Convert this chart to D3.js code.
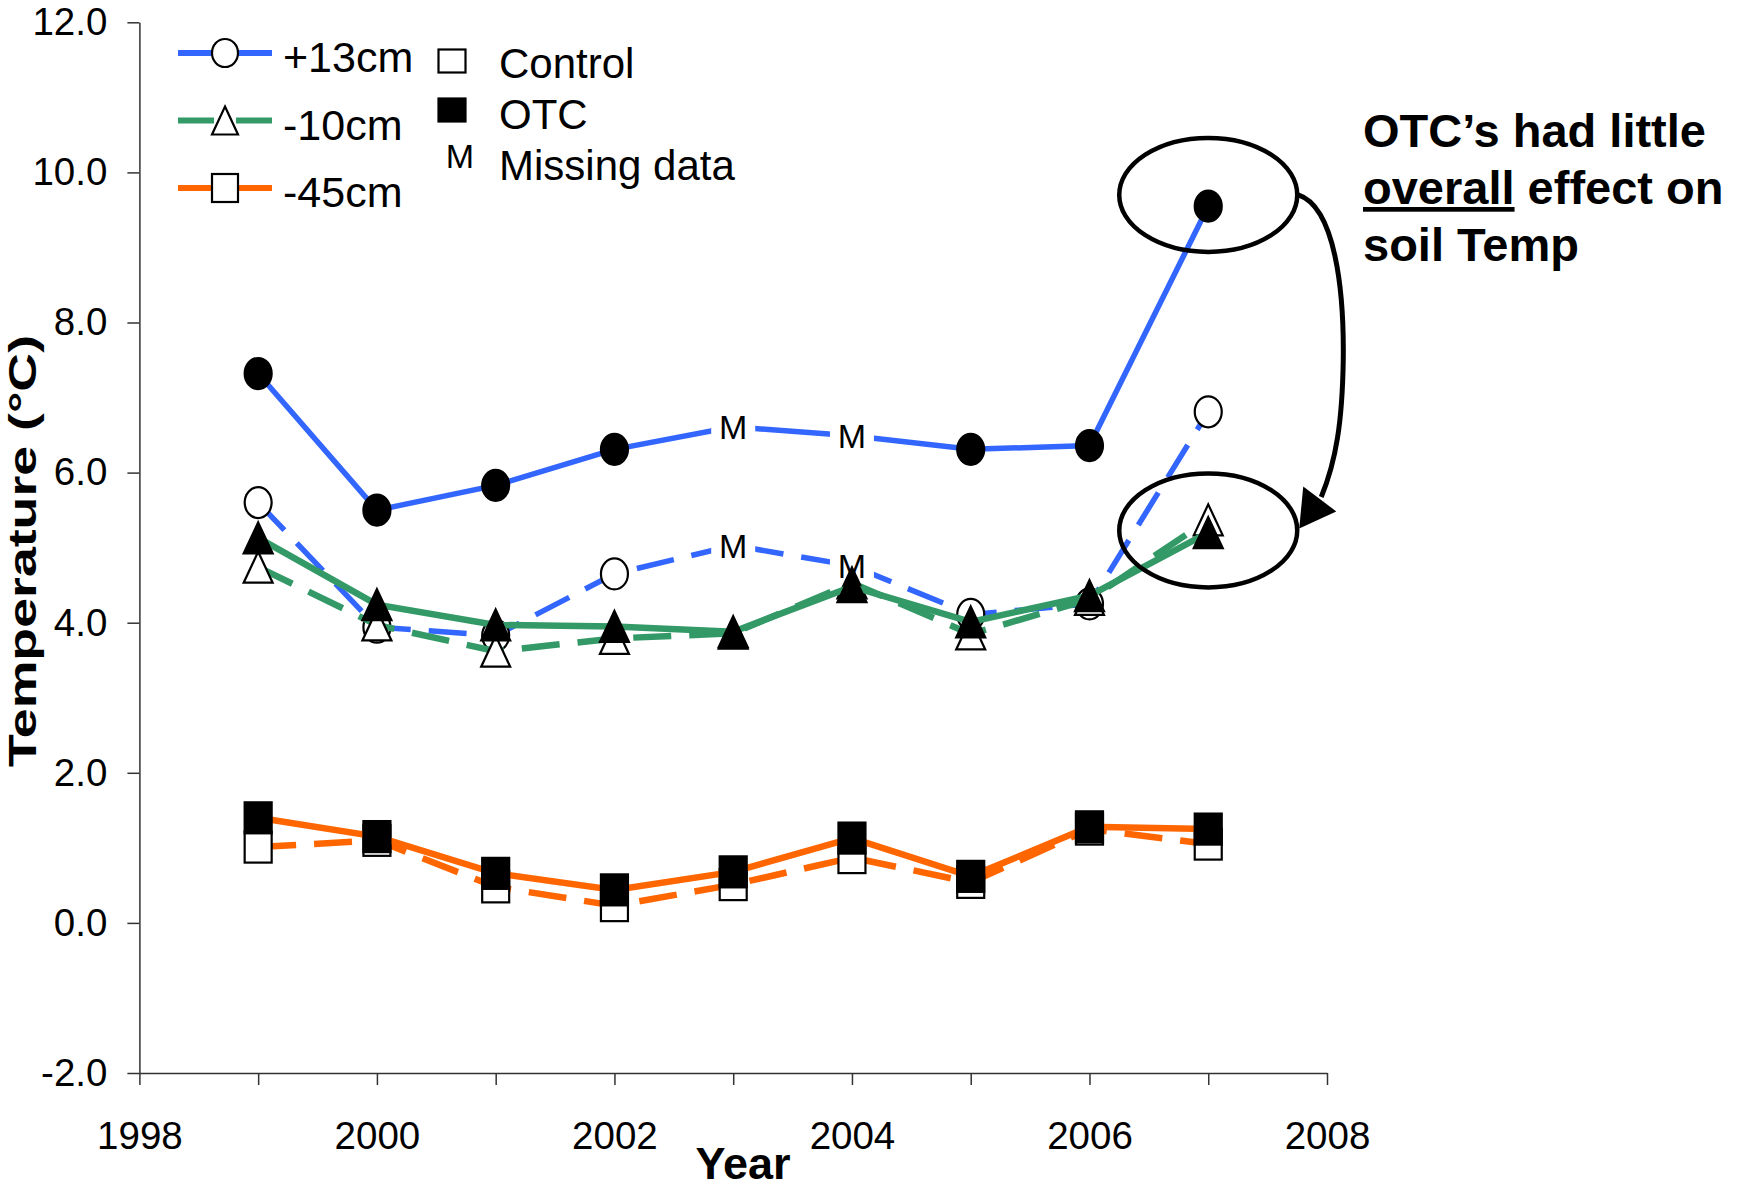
<!DOCTYPE html>
<html>
<head>
<meta charset="utf-8">
<script src="https://cdn.jsdelivr.net/npm/d3@7"></script>
<style>
  body { margin: 0; background: #fff; }
  text { font-family: "Liberation Sans", Arial, sans-serif; fill: #000; }
</style>
</head>
<body>
<svg id="chart"></svg>
<script>
// years and yearly mean soil temperatures (°C)
var years = [1999, 2000, 2001, 2002, 2003, 2004, 2005, 2006, 2007];
var otc13 = [7.32, 5.50, 5.83, 6.31, 6.61, 6.49, 6.31, 6.36, 9.55];
var ctl13 = [5.60, 3.94, 3.83, 4.65, 5.03, 4.76, 4.11, 4.25, 6.81];
var otc10 = [5.13, 4.24, 3.97, 3.95, 3.88, 4.48, 4.01, 4.36, 5.20];
var ctl10 = [4.74, 3.97, 3.62, 3.79, 3.86, 4.53, 3.85, 4.31, 5.37];
var otc45 = [1.40, 1.15, 0.66, 0.44, 0.68, 1.13, 0.62, 1.28, 1.25];
var ctl45 = [1.01, 1.10, 0.48, 0.23, 0.51, 0.87, 0.54, 1.25, 1.05];
var missing13 = [2003, 2004]; // +13cm years drawn as "M"

var yTicks = [-2, 0, 2, 4, 6, 8, 10, 12];
var xTicks = d3.range(1998, 2009);
var xLabels = [1998, 2000, 2002, 2004, 2006, 2008];

var depthNames = ["+13cm", "-10cm", "-45cm"];
var treatNames = ["Control", "OTC", "Missing data"];
var noteLines = ["OTC\u2019s had little", "overall", " effect on", "soil Temp"];

var colors = {"+13cm": "#3366ff", "-10cm": "#339966", "-45cm": "#ff6600"};
var shapes = {"+13cm": "circle", "-10cm": "triangle", "-45cm": "square"};

var series = [
  {depth: "+13cm", otc: false, values: ctl13, missing: missing13},
  {depth: "+13cm", otc: true, values: otc13, missing: missing13},
  {depth: "-10cm", otc: false, values: ctl10, missing: []},
  {depth: "-10cm", otc: true, values: otc10, missing: []},
  {depth: "-45cm", otc: false, values: ctl45, missing: []},
  {depth: "-45cm", otc: true, values: otc45, missing: []}
];

var width = 1749, height = 1189;
var svg = d3.select("#chart").attr("width", width).attr("height", height);

var x = d3.scaleLinear().domain([1998, 2008]).range([139.4, 1327]);
var y = d3.scaleLinear().domain([-2, 12]).range([1073, 22.3]);

// axes
var yAxis = svg.append("g")
    .attr("transform", "translate(" + x(1998) + ",0)")
    .call(d3.axisLeft(y).tickValues(yTicks).tickSize(12).tickSizeOuter(0).tickPadding(20)
      .tickFormat(function(d) { return d.toFixed(1); }));

var xAxis = svg.append("g")
    .attr("transform", "translate(0," + y(-2) + ")")
    .call(d3.axisBottom(x).tickValues(xTicks).tickSize(12).tickSizeOuter(0).tickPadding(37)
      .tickFormat(function(d) { return xLabels.indexOf(d) >= 0 ? d : ""; }));

[yAxis, xAxis].forEach(function(a) {
  a.attr("font-family", null).attr("font-size", null);
  a.selectAll("path, line").attr("stroke", "#333").attr("stroke-width", 1.5);
  a.selectAll("text").style("font-size", "38.5px");
});

svg.append("text")
    .attr("x", 743).attr("y", 1179)
    .attr("text-anchor", "middle")
    .style("font-size", "45px").style("font-weight", "bold")
    .text("Year");

svg.append("text")
    .attr("transform", "translate(36,551) rotate(-90)")
    .attr("text-anchor", "middle")
    .attr("textLength", 432).attr("lengthAdjust", "spacingAndGlyphs")
    .style("font-size", "38px").style("font-weight", "bold")
    .text("Temperature (\u00b0C)");

// marker drawing
function drawMarker(g, shape, filled, cx, cy, w, h) {
  var fill = filled ? "#000" : "#fff";
  var m;
  if (shape === "circle") {
    m = g.append("ellipse").attr("cx", cx).attr("cy", cy).attr("rx", w / 2).attr("ry", h / 2);
  } else if (shape === "triangle") {
    m = g.append("path").attr("d", "M" + cx + "," + (cy - h / 2) +
      "L" + (cx + w / 2) + "," + (cy + h / 2) + "L" + (cx - w / 2) + "," + (cy + h / 2) + "Z");
  } else {
    m = g.append("rect").attr("x", cx - w / 2).attr("y", cy - h / 2).attr("width", w).attr("height", h);
  }
  m.attr("fill", fill).attr("stroke", "#000").attr("stroke-width", 2.2);
}

function drawM(g, cx, cy, box) {
  if (box) {
    g.append("rect").attr("x", cx - 22).attr("y", cy - 21).attr("width", 44).attr("height", 42).attr("fill", "#fff");
  }
  g.append("text").attr("x", cx).attr("y", cy + 12.5)
    .attr("text-anchor", "middle").style("font-size", "34px").text("M");
}

var line = d3.line()
    .x(function(d) { return x(d.year); })
    .y(function(d) { return y(d.value); });

series.forEach(function(s) {
  var pts = years.map(function(yr, i) { return {year: yr, value: s.values[i]}; });
  var g = svg.append("g");
  g.append("path")
    .datum(pts)
    .attr("d", line)
    .attr("fill", "none")
    .attr("stroke", colors[s.depth])
    .attr("stroke-width", s.depth === "+13cm" ? 5.5 : 6.5)
    .attr("stroke-dasharray", s.otc ? null : "38,18");
  pts.forEach(function(p) {
    if (s.missing.indexOf(p.year) >= 0) {
      drawM(g, x(p.year), y(p.value), true);
    } else {
      drawMarker(g, shapes[s.depth], s.otc, x(p.year), y(p.value), shapes[s.depth] === "triangle" ? 29 : 27, 31);
    }
  });
});

// legend
var leg = svg.append("g");
depthNames.forEach(function(d, i) {
  var cy = 53 + i * 67.5;
  leg.append("line").attr("x1", 178).attr("x2", 273).attr("y1", cy).attr("y2", cy)
    .attr("stroke", colors[d]).attr("stroke-width", 6).attr("stroke-dasharray", "36,22");
  drawMarker(leg, shapes[d], false, 225, cy, 26, 28);
  leg.append("text").attr("x", 283).attr("y", cy + 19).style("font-size", "43px").text(d);
});
drawMarker(leg, "square", false, 452, 61, 27, 23);
drawMarker(leg, "square", true, 452, 110, 27, 23);
leg.append("text").attr("x", 460).attr("y", 168).attr("text-anchor", "middle").style("font-size", "34px").text("M");
treatNames.forEach(function(t, i) {
  leg.append("text").attr("x", 499).attr("y", 78 + i * 51).style("font-size", "42px").text(t);
});

// annotation: ellipses + arrow + note
var ex = x(2007), eyTop = y(9.7), eyBot = y(5.23);
var ann = svg.append("g");
[eyTop, eyBot].forEach(function(cy) {
  ann.append("ellipse").attr("cx", ex).attr("cy", cy).attr("rx", 89).attr("ry", 57)
    .attr("fill", "none").attr("stroke", "#000").attr("stroke-width", 4.5);
});
ann.append("path")
  .attr("d", "M" + (ex + 90) + "," + eyTop +
    "C" + (ex + 127) + "," + (eyTop + 12) + " " + (ex + 136) + "," + (eyTop + 96) + " " + (ex + 135) + "," + (eyTop + 166) +
    "C" + (ex + 134) + "," + (eyTop + 226) + " " + (ex + 128) + "," + (eyTop + 266) + " " + (ex + 113) + "," + (eyTop + 302))
  .attr("fill", "none").attr("stroke", "#000").attr("stroke-width", 5);
ann.append("path")
  .attr("d", "M" + (ex + 91) + "," + (eyBot - 2) + "L" + (ex + 95) + "," + (eyBot - 44) + "L" + (ex + 128) + "," + (eyBot - 19) + "Z")
  .attr("fill", "#000");

var note = svg.append("g").style("font-size", "47px").style("font-weight", "bold");
note.append("text").attr("x", 1363).attr("y", 147).text(noteLines[0]);
var l2 = note.append("text").attr("x", 1363).attr("y", 204);
l2.append("tspan").style("text-decoration", "underline").text(noteLines[1]);
l2.append("tspan").text(noteLines[2]);
note.append("text").attr("x", 1363).attr("y", 261).text(noteLines[3]);
</script>
</body>
</html>
